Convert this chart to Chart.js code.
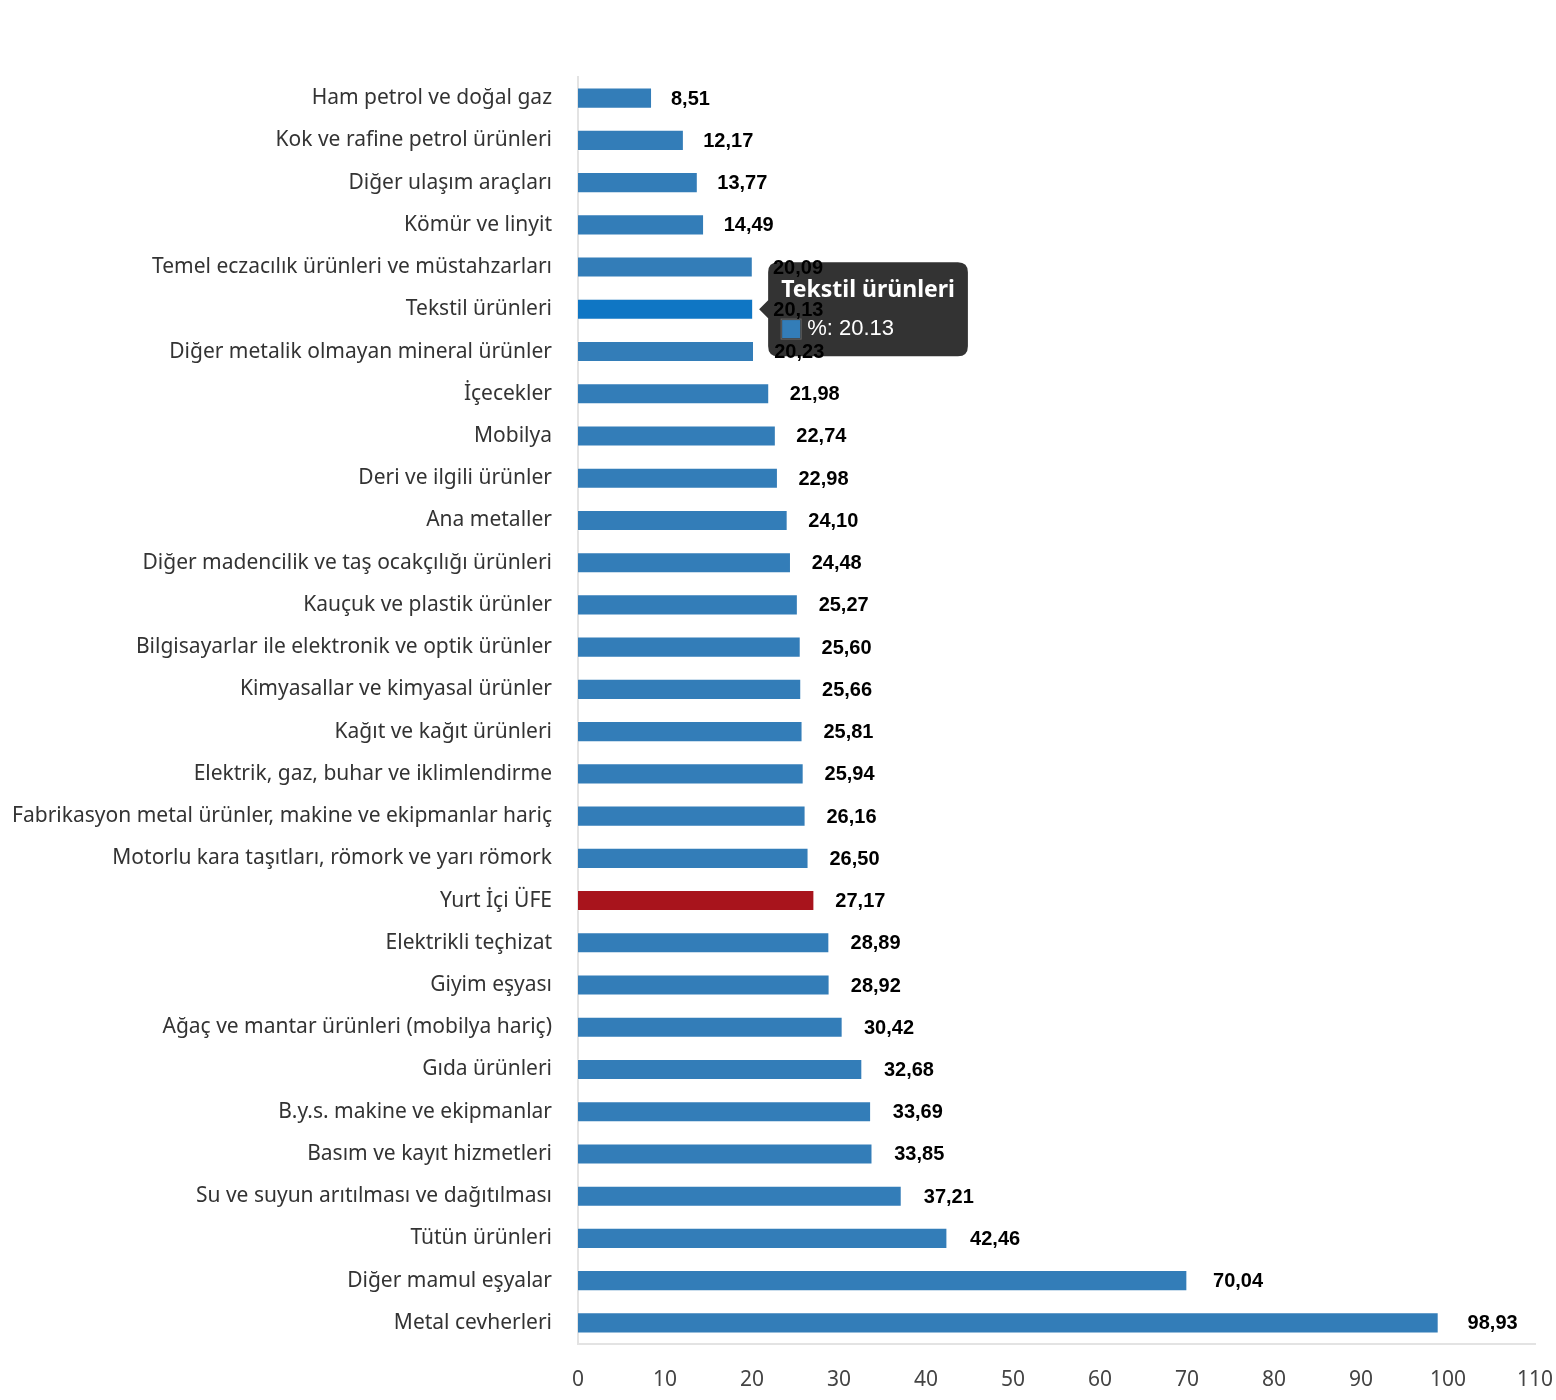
<!DOCTYPE html>
<html>
<head>
<meta charset="utf-8">
<script src="https://cdn.jsdelivr.net/npm/chart.js@4.4.1/dist/chart.umd.min.js"></script>
<style>
  body { margin: 0; background: #fff; }
  #wrap { width: 1556px; height: 1400px; position: relative; }
</style>
</head>
<body>
<div id="wrap"><canvas id="ufeChart"></canvas></div>
<script>
const labels = [
    'Ham petrol ve doğal gaz',
    'Kok ve rafine petrol ürünleri',
    'Diğer ulaşım araçları',
    'Kömür ve linyit',
    'Temel eczacılık ürünleri ve müstahzarları',
    'Tekstil ürünleri',
    'Diğer metalik olmayan mineral ürünler',
    'İçecekler',
    'Mobilya',
    'Deri ve ilgili ürünler',
    'Ana metaller',
    'Diğer madencilik ve taş ocakçılığı ürünleri',
    'Kauçuk ve plastik ürünler',
    'Bilgisayarlar ile elektronik ve optik ürünler',
    'Kimyasallar ve kimyasal ürünler',
    'Kağıt ve kağıt ürünleri',
    'Elektrik, gaz, buhar ve iklimlendirme',
    'Fabrikasyon metal ürünler, makine ve ekipmanlar hariç',
    'Motorlu kara taşıtları, römork ve yarı römork',
    'Yurt İçi ÜFE',
    'Elektrikli teçhizat',
    'Giyim eşyası',
    'Ağaç ve mantar ürünleri (mobilya hariç)',
    'Gıda ürünleri',
    'B.y.s. makine ve ekipmanlar',
    'Basım ve kayıt hizmetleri',
    'Su ve suyun arıtılması ve dağıtılması',
    'Tütün ürünleri',
    'Diğer mamul eşyalar',
    'Metal cevherleri'
];
const values = [8.51, 12.17, 13.77, 14.49, 20.09, 20.13, 20.23, 21.98, 22.74, 22.98,
    24.10, 24.48, 25.27, 25.60, 25.66, 25.81, 25.94, 26.16, 26.50, 27.17,
    28.89, 28.92, 30.42, 32.68, 33.69, 33.85, 37.21, 42.46, 70.04, 98.93];
const highlightLabel = 'Yurt İçi ÜFE';
const xTicks = [0, 10, 20, 30, 40, 50, 60, 70, 80, 90, 100, 110];

const barBlue = '#337db8';
const barRed = '#a8141c';
const hoverBlue = '#0f76c4';

// value labels drawn after the tooltip, like in the original
const valueLabels = {
    id: 'valueLabels',
    afterDraw(chart) {
        const ctx = chart.ctx;
        const meta = chart.getDatasetMeta(0);
        ctx.save();
        ctx.font = 'bold 20px "Liberation Sans", Arial, sans-serif';
        ctx.fillStyle = '#000';
        ctx.textAlign = 'left';
        ctx.textBaseline = 'middle';
        meta.data.forEach((bar, i) => {
            const txt = values[i].toFixed(2).replace('.', ',');
            ctx.fillText(txt, bar.x + 18 + values[i] * 0.11, bar.y + 1);
        });
        ctx.restore();
    }
};

const ctx = document.getElementById('ufeChart').getContext('2d');
const chart = new Chart(ctx, {
    type: 'bar',
    data: {
        labels: labels,
        datasets: [{
            label: '%',
            data: values,
            backgroundColor: labels.map(l => l === highlightLabel ? barRed : barBlue),
            hoverBackgroundColor: labels.map(l => l === highlightLabel ? barRed : hoverBlue),
            borderColor: 'rgba(255,255,255,0.25)',
            borderWidth: 1,
            barPercentage: 0.5,
            categoryPercentage: 1.0
        }]
    },
    options: {
        indexAxis: 'y',
        responsive: true,
        maintainAspectRatio: false,
        animation: false,
        events: [],
        layout: { padding: { top: 77, right: 21, bottom: 0, left: 10 } },
        scales: {
            x: {
                min: 0,
                max: 110,
                afterBuildTicks: (scale) => { scale.ticks = xTicks.map(v => ({ value: v })); },
                afterFit: (scale) => {
                    scale.height = 56;
                    scale.paddingLeft = 0;
                    scale.paddingRight = 0;
                },
                grid: { display: false },
                border: { display: true, color: '#e3e3e3', width: 2 },
                ticks: {
                    padding: 15,
                    color: '#444',
                    font: { family: '"Noto Sans", sans-serif', size: 21 }
                }
            },
            y: {
                grid: { display: false },
                border: { display: true, color: '#e3e3e3', width: 2 },
                afterFit: (scale) => { scale.width = 568; },
                ticks: {
                    padding: 18,
                    color: '#333',
                    font: { family: '"Noto Sans", sans-serif', size: 21 }
                }
            }
        },
        plugins: {
            legend: { display: false },
            tooltip: {
                backgroundColor: 'rgba(0,0,0,0.8)',
                titleFont: { family: '"Noto Sans", sans-serif', size: 23, weight: 'bold' },
                bodyFont: { family: '"Liberation Sans", Arial, sans-serif', size: 22 },
                padding: { x: 13, y: 14 },
                cornerRadius: 10,
                caretSize: 9,
                caretPadding: 6,
                boxWidth: 20,
                boxHeight: 20,
                boxPadding: 4,
                titleMarginBottom: 12,
                multiKeyBackground: 'rgba(0,0,0,0)'
            }
        }
    },
    plugins: [valueLabels]
});

const activeBar = [{ datasetIndex: 0, index: 5 }];
const el = chart.getDatasetMeta(0).data[5];
chart.setActiveElements(activeBar);
chart.tooltip.setActiveElements(activeBar, { x: el.x, y: el.y });
chart.update();
</script>
</body>
</html>
